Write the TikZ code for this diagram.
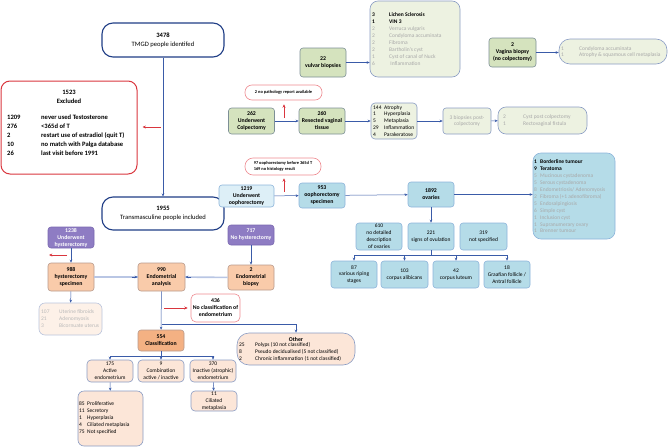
\documentclass[tikz,border=0pt]{standalone}
\usepackage{fontspec}
\setmainfont{Carlito}
\usetikzlibrary{arrows.meta}

\definecolor{navy}{HTML}{203E86}
\definecolor{exred}{HTML}{D9363E}
\definecolor{lred}{HTML}{EE8A90}
\definecolor{grnfill}{HTML}{D5E3BE}
\definecolor{grnline}{HTML}{7D8F96}
\definecolor{grnlt}{HTML}{EDF2E1}
\definecolor{boxline}{HTML}{8A9CC4}
\definecolor{blufill}{HTML}{B5DCE8}
\definecolor{bluline}{HTML}{8DB4DA}
\definecolor{blult}{HTML}{DDEFF7}
\definecolor{purfill}{HTML}{8E7CC3}
\definecolor{purline}{HTML}{7A68B0}
\definecolor{orgfill}{HTML}{F9CBAA}
\definecolor{orgdark}{HTML}{F4B183}
\definecolor{orgline}{HTML}{B89A8C}
\definecolor{orglt}{HTML}{FCE6D8}
\definecolor{orgfade}{HTML}{FDF1E8}
\definecolor{fadetxt}{HTML}{A8A8A8}
\definecolor{arrcol}{HTML}{3A5BA8}
\definecolor{thickcon}{HTML}{B9C6E4}

\newcommand{\midfont}{\fontsize{6.6}{9}\selectfont}
\newcommand{\sbold}{\fontsize{5.8}{7}\selectfont\bfseries}
\newcommand{\lstfont}{\fontsize{5.5}{6.9}\selectfont}
\newcommand{\tinyb}{\fontsize{4.4}{5.6}\selectfont\bfseries}
\newcommand{\nc}[2]{\makebox[#1][l]{#2}}
\newcommand{\fd}{\color{fadetxt}}

\begin{document}
\begin{tikzpicture}[x=1pt,y=-1pt,
    every node/.style={inner sep=0pt, align=center},
    topbox/.style={draw=navy, line width=1.1pt, fill=white, rounded corners=11pt, font=\midfont},
    exbox/.style={draw=exred, line width=1pt, rounded corners=9pt},
    notebox/.style={draw=lred, line width=0.6pt, rounded corners=7pt, fill=white, font=\tinyb},
    grnbox/.style={draw=grnline, fill=grnfill, line width=0.6pt, rounded corners=3pt, font=\sbold, minimum width=46},
    lstbox/.style={draw=boxline, fill=grnlt, line width=0.6pt},
    blubox/.style={draw=bluline, fill=blufill, line width=0.6pt, rounded corners=3pt, font=\sbold, minimum width=46},
    bluplain/.style={blubox, font=\lstfont, minimum height=27},
    purbox/.style={draw=purline, fill=purfill, line width=0.6pt, rounded corners=3pt, font=\sbold, text=white, minimum width=46},
    orgbox/.style={draw=orgline, fill=orgfill, line width=0.6pt, rounded corners=3pt, font=\sbold, minimum width=46},
    ltorg/.style={draw=boxline, fill=orglt, line width=0.6pt, rounded corners=4pt, font=\lstfont, minimum width=46},
    line/.style={draw=arrcol, line width=0.5pt},
    conn/.style={line, -{Stealth[length=3pt,width=2.6pt]}},
    redconn/.style={draw=exred, line width=0.6pt, -{Stealth[length=3.4pt,width=3pt]}},
    fatconn/.style={draw=thickcon, line width=1.6pt}]

  \useasboundingbox (0,0) rectangle (669,447);

  % top
  \node[topbox, minimum width=122, minimum height=34] (tmgd) at (163,40) {\textbf{3478}\\TMGD people identifed};
  \node[topbox, minimum width=122, minimum height=33] (incl) at (163,213.5) {\textbf{1955}\\Transmasculine people included};
  \node[exbox, minimum width=136, minimum height=93] (excl) at (69,127.5) {};
  \node[font=\midfont\bfseries] (exttl) at (69,96.5) {1523\\Excluded};
  \node[anchor=north west, align=left, font=\midfont\bfseries] (exlst) at (7,114.5) {\nc{34pt}{1209}never used Testosterone\\
    \nc{34pt}{276}<365d of T\\
    \nc{34pt}{2}restart use of estradiol (quit T)\\
    \nc{34pt}{10}no match with Palga database\\
    \nc{34pt}{26}last visit before 1991};
  \coordinate (exfrom) at (161,127);
  \draw[conn] (tmgd) -- (incl);
  \draw[redconn, shorten >=5pt] (exfrom) -- (exfrom -| excl.east);

  % vulva and vagina
  \node[grnbox, minimum height=29] (vulv) at (323,62.5) {22\\vulvar biopsies};
  \node[lstbox, minimum width=90, minimum height=76, rounded corners=8pt] (vull) at (415,39) {};
  \node[anchor=west, align=left, font=\lstfont] (vullt) at (372,39) {\textbf{\nc{17pt}{3}Lichen Sclerosis}\\
    \textbf{\nc{17pt}{1}VIN 3}\\
    {\fd\nc{17pt}{2}Verruca vulgaris}\\
    {\fd\nc{17pt}{2}Condyloma accuminata}\\
    {\fd\nc{17pt}{2}Fibroma}\\
    {\fd\nc{17pt}{2}Bartholin's cyst}\\
    {\fd\nc{17pt}{1}Cyst of canal of Nuck}\\
    {\fd\nc{17pt}{6}\ Inflammation}};
  \draw[conn] (vulv.east) -- (vulv.east -| vull.west);

  \node[grnbox, minimum width=47, minimum height=29] (vag) at (512.5,52.5) {2\\Vagina biopsy\\(no colpectomy)};
  \node[lstbox, minimum width=108, minimum height=25, rounded corners=11pt] (vagl) at (613,51.5) {};
  \node[anchor=west, align=left, font=\lstfont, text=fadetxt] (vaglt) at (561,52) {\nc{18pt}{1}Condyloma accuminata\\
    \nc{18pt}{1}Atrophy \& squamous cell metaplasia};
  \draw[conn] (vag.east) -- (vag.east -| vagl.west);

  % colpectomy
  \node[notebox, minimum width=77, minimum height=15] (nopat) at (283.5,92.5) {2 no pathology report available};
  \node[grnbox, minimum height=26] (colp) at (251.5,121) {262\\Underwent\\Colpectomy};
  \node[grnbox, minimum height=26] (resv) at (322,121) {260\\Resected vaginal\\tissue};
  \node[lstbox, minimum width=46, minimum height=36, rounded corners=4pt] (vgl) at (394,121) {};
  \node[anchor=west, align=left, font=\lstfont] (vglt) at (373,121) {\nc{11pt}{144}Atrophy\\
    \nc{11pt}{1}Hyperplasia\\
    \nc{11pt}{5}Metaplasia\\
    \nc{11pt}{29}Inflammation\\
    \nc{11pt}{4}Parakeratose};
  \node[lstbox, minimum width=48, minimum height=26, rounded corners=3pt, font=\lstfont, text=fadetxt] (post) at (467,121) {3 biopsies post-\\colpectomy};
  \node[lstbox, minimum width=89, minimum height=27, rounded corners=8pt] (cyst) at (542.5,120.5) {};
  \node[anchor=west, align=left, font=\lstfont, text=fadetxt] (cystt) at (503,120.5) {\nc{20pt}{2}Cyst post colpectomy\\
    \nc{20pt}{1}Rectovaginal fistula};
  \coordinate (npfrom) at (284,118);
  \draw[conn] (colp) -- (resv);
  \draw[conn] (resv) -- (vgl);
  \draw[conn] (vgl) -- (post);
  \draw[conn] (post) -- (cyst);
  \draw[redconn, shorten >=4pt] (npfrom) -- (npfrom |- nopat.south);

  % oophorectomy
  \node[notebox, minimum width=76, minimum height=17, rounded corners=8pt, align=left] (oorem) at (283,166.5) {97 oophorectomy before 365d T\\169 no histology result};
  \node[blubox, fill=blult, minimum width=55, minimum height=22] (ooph) at (246.5,196) {1219\\Underwent\\oophorectomy};
  \node[blubox, minimum height=25] (oosp) at (322,195.5) {953\\oophorectomy\\specimen};
  \node[blubox, minimum height=25] (ovar) at (431,194.5) {1892\\ovaries};
  \node[blubox, minimum width=82, minimum height=86, rounded corners=8pt] (ovl) at (574,196) {};
  \node[anchor=west, align=left, font=\lstfont] (ovlt) at (534,196.5) {\textbf{\nc{6pt}{1}Borderline tumour}\\
    \textbf{\nc{6pt}{9}Teratoma}\\
    {\fd\nc{6pt}{5}Mucinous cystadenoma}\\
    {\fd\nc{6pt}{5}Serous cystadenoma}\\
    {\fd\nc{6pt}{8}Endometriosis/ Adenomyosis}\\
    {\fd\nc{6pt}{2}Fibroma (+1 adenofibroma)}\\
    {\fd\nc{6pt}{5}Endosalpingiosis}\\
    {\fd\nc{6pt}{6}Simple cyst}\\
    {\fd\nc{6pt}{1}Inclusion cyst}\\
    {\fd\nc{6pt}{1}Supranumerary ovary}\\
    {\fd\nc{6pt}{1}Brenner tumour}};
  \coordinate (oofrom) at (284,192);
  \draw[conn] (ooph) -- (oosp);
  \draw[conn] (oosp) -- (ovar);
  \draw[conn] (ovar.east) -- (ovar.east -| ovl.west);
  \draw[redconn, shorten >=3pt] (oofrom) -- (oofrom |- oorem.south);

  \node[bluplain] (od1) at (379,236.5) {610\\no detailed\\description\\of ovaries};
  \node[bluplain] (od2) at (431,236.5) {221\\signs of ovulation};
  \node[bluplain, minimum width=47] (od3) at (483.5,236.5) {319\\not specified};
  \node[bluplain] (ov1) at (354,274.5) {87\\various riping\\stages};
  \node[bluplain, minimum width=47] (ov2) at (404.5,274.5) {103\\corpus alibicans};
  \node[bluplain] (ov3) at (456,274.5) {42\\corpus luteum};
  \node[bluplain] (ov4) at (507,274.5) {18\\Graafian follicle /\\Antral follicle};
  \coordinate (ovbus) at (431,255);
  \draw[conn] (ovar) -- (od2);
  \draw[line] (od2) -- (ovbus);
  \draw[line] (ov1 |- ovbus) -- (ov4 |- ovbus);
  \foreach \n in {ov1,ov2,ov3,ov4}
    \draw[conn] (\n |- ovbus) -- (\n);

  % hysterectomy
  \node[purbox, minimum height=21] (hyst) at (71,237.5) {1238\\Underwent\\hysterectomy};
  \node[orgbox, minimum height=28] (hysp) at (71,277) {988\\hysterectomy\\specimen};
  \node[draw=boxline!60, fill=orgfade, line width=0.6pt, minimum width=63, minimum height=32, rounded corners=6pt] (hysl) at (70.5,319) {};
  \node[anchor=west, align=left, font=\lstfont, text=fadetxt!80] (hyslt) at (41,318.5) {\nc{18pt}{107}Uterine fibroids\\
    \nc{18pt}{21}Adenomyosis\\
    \nc{18pt}{3}Bicornuate uterus};
  \node[orgbox, minimum width=47, minimum height=28] (endo) at (161.5,277) {990\\Endometrial\\analysis};
  \node[purbox, minimum height=20] (nohy) at (251,235) {717\\No hysterectomy};
  \node[orgbox, minimum height=25] (ebio) at (251,277.5) {2\\Endometrial\\biopsy};
  \node[notebox, minimum width=49, minimum height=28, rounded corners=5pt, font=\sbold] (nocl) at (215.5,308) {436\\No classification of\\endometrium};
  \node[orgbox, fill=orgdark, minimum height=21] (clas) at (161,340.5) {554\\Classification};
  \node[ltorg, minimum width=118, minimum height=32, rounded corners=12pt] (oth) at (296,349) {};
  \node[font=\sbold] (otht) at (296,339.5) {Other};
  \node[anchor=north west, align=left, font=\lstfont] (othl) at (239,342) {\nc{16pt}{25}Polyps (10 not classified)\\
    \nc{16pt}{8}Pseudo decidualised (5 not classified)\\
    \nc{16pt}{2}Chronic inflammation (1 not classified)};
  \node[ltorg, minimum height=22] (ac1) at (110,371) {175\\Active\\endometrium};
  \node[ltorg, minimum height=22] (ac2) at (161,371) {9\\Combination\\active / inactive};
  \node[ltorg, minimum height=22] (ac3) at (213,371) {370\\Inactive (atrophic)\\endometrium};
  \node[ltorg, minimum width=65, minimum height=55, rounded corners=6pt] (acl) at (110.5,418.5) {};
  \node[anchor=west, align=left, font=\lstfont] (aclt) at (79,418) {\nc{8pt}{85}Proliferative\\
    \nc{8pt}{11}Secretory\\
    \nc{8pt}{1}Hyperplasia\\
    \nc{8pt}{4}Ciliated metaplasia\\
    \nc{8pt}{75}Not specified};
  \node[ltorg, minimum height=20] (cil) at (214,401) {11\\Ciliated\\metaplasia};

  \coordinate (hrfrom) at (67,255);
  \coordinate (hrto) at (49,255);
  \coordinate (ncfrom) at (164,308);
  \coordinate (otbus) at (161.5,324);
  \coordinate (clbus) at (161,356);
  \draw[conn] (hyst) -- (hysp);
  \draw[conn] (hysp) -- (hysl);
  \draw[redconn] (hrfrom) -- (hrto);
  \draw[fatconn] (hysp) -- (endo);
  \draw[fatconn] (ebio) -- (endo);
  \draw[conn] ([xshift=-6]endo.west) -- (endo.west);
  \draw[conn] ([xshift=6]endo.east) -- (endo.east);
  \draw[conn] (nohy) -- (ebio);
  \draw[conn] (endo) -- (clas);
  \draw[redconn, shorten >=3pt] (ncfrom) -- (ncfrom -| nocl.west);
  \draw[line] (otbus) -- (otbus -| oth);
  \draw[conn] (otbus -| oth) -- (oth);
  \draw[line] (clas) -- (clbus);
  \draw[line] (ac1 |- clbus) -- (ac3 |- clbus);
  \foreach \n in {ac1,ac2,ac3}
    \draw[conn] (\n |- clbus) -- (\n);
  \draw[conn] (ac1) -- (acl);
  \draw[conn] (ac3) -- (cil);
\end{tikzpicture}
\end{document}
